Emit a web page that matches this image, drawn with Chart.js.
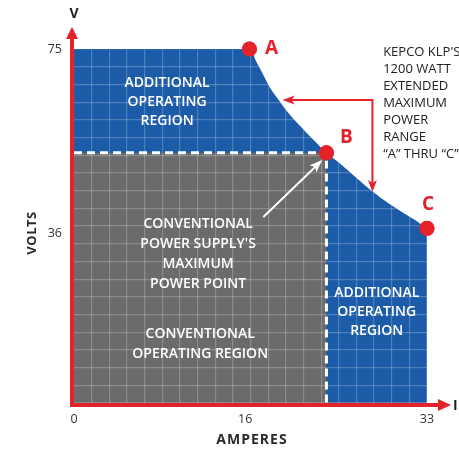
<!DOCTYPE html>
<html>
<head>
<meta charset="utf-8">
<script src="https://cdn.jsdelivr.net/npm/chart.js@4.4.1/dist/chart.umd.min.js"></script>
<style>
  html, body { margin: 0; padding: 0; background: #ffffff; }
  #wrap { width: 459px; height: 450px; }
</style>
</head>
<body>
<div id="wrap"><canvas id="c" width="459" height="450"></canvas></div>
<script>
// ---- Data ----
const xTickValues = [0, 16, 33];          // AMPERES ticks
const yTickValues = [36, 75];             // VOLTS ticks
// outline of the extended (1200 W) region: amperes / volts
const extendedI = [0, 16.4, 17.0, 17.7, 18.4, 19.2, 20.2, 21.3, 22.4, 23.6, 25.0, 26.3, 27.7, 29.1, 30.5, 31.8, 33];
const extendedV = [75, 75, 72.5, 69.5, 66.5, 64.0, 61.0, 58.3, 55.7, 53.0, 50.5, 47.9, 45.2, 42.8, 40.7, 38.9, 37];
// conventional operating region (rectangle up to max power point B)
const conventionalI = [0, 23.6];
const conventionalV = [53, 53];
// marked points A, B, C
const pointNames = ['A', 'B', 'C'];
const pointI = [16.4, 23.6, 33];
const pointV = [75, 53, 37];
// text blocks
const topLeftLabel = ['ADDITIONAL', 'OPERATING', 'REGION'];
const rightLabel = ['ADDITIONAL', 'OPERATING', 'REGION'];
const maxPointLabel = ['CONVENTIONAL', "POWER SUPPLY'S", 'MAXIMUM', 'POWER POINT'];
const convRegionLabel = ['CONVENTIONAL', 'OPERATING REGION'];
const kepcoLabel = ["KEPCO KLP'S", '1200 WATT', 'EXTENDED', 'MAXIMUM', 'POWER', 'RANGE', '\u201CA\u201D THRU \u201CC\u201D'];

const RED = '#e3222a';
const BLUE = '#1b5ba7';
const GRAY = '#6b6b6b';
const FONT = '"Open Sans", "Noto Sans", sans-serif';

const toXY = (xs, ys) => xs.map((v, i) => ({ x: v, y: ys[i] }));

function arrowHead(ctx, x0, y0, x1, y1, len, wid, color) {
  const ang = Math.atan2(y1 - y0, x1 - x0);
  ctx.save();
  ctx.fillStyle = color;
  ctx.translate(x1, y1);
  ctx.rotate(ang);
  ctx.beginPath();
  ctx.moveTo(0, 0);
  ctx.lineTo(-len, -wid / 2);
  ctx.lineTo(-len * 0.75, 0);
  ctx.lineTo(-len, wid / 2);
  ctx.closePath();
  ctx.fill();
  ctx.restore();
}

function textBlock(ctx, lines, px, py, lh, font, color, align) {
  ctx.save();
  ctx.font = font;
  ctx.fillStyle = color;
  ctx.textAlign = align;
  ctx.textBaseline = 'middle';
  lines.forEach((t, i) => ctx.fillText(t, px, py + i * lh));
  ctx.restore();
}

const annotations = {
  id: 'annotations',
  afterDraw(chart) {
    const ctx = chart.ctx;
    const xs = chart.scales.x, ys = chart.scales.y;
    const X = v => xs.getPixelForValue(v);
    const Y = v => ys.getPixelForValue(v);
    const a = chart.chartArea;

    // region labels
    const regFont = '600 14px ' + FONT;
    textBlock(ctx, topLeftLabel, X(8.7), Y(67.8), 19, regFont, '#ffffff', 'center');
    textBlock(ctx, rightLabel, X(28.3), Y(23.3), 19, regFont, '#ffffff', 'center');
    textBlock(ctx, maxPointLabel, X(11.6), Y(37.9), 20, regFont, '#ffffff', 'center');
    textBlock(ctx, convRegionLabel, X(11.8), Y(14.6), 19.5, regFont, '#ffffff', 'center');
    textBlock(ctx, kepcoLabel, X(28.9), Y(74.4), 17, '13px ' + FONT, '#222222', 'left');

    // white arrow to B
    ctx.save();
    ctx.strokeStyle = '#ffffff';
    ctx.lineWidth = 2;
    const wx0 = X(17.7), wy0 = Y(39.4), wx1 = X(23.2), wy1 = Y(51.5);
    ctx.beginPath(); ctx.moveTo(wx0, wy0); ctx.lineTo(wx1 - 6, wy1 + 6); ctx.stroke();
    ctx.restore();
    arrowHead(ctx, wx0, wy0, wx1, wy1, 13, 10, '#ffffff');

    // red bracket arrow
    ctx.save();
    ctx.strokeStyle = RED;
    ctx.lineWidth = 2;
    const cx = X(27.9), cy = Y(64.2), lx = X(19.5), dy = Y(44.7);
    ctx.beginPath();
    ctx.moveTo(lx + 8, cy); ctx.lineTo(cx, cy); ctx.lineTo(cx, dy - 8);
    ctx.stroke();
    ctx.restore();
    arrowHead(ctx, cx, cy, lx, cy, 12, 9, RED);
    arrowHead(ctx, cx, cy, cx, dy, 12, 9, RED);

    // red axes with arrows
    ctx.save();
    ctx.fillStyle = RED;
    ctx.fillRect(a.left - 4, 36, 4, a.bottom + 4 - 36);
    ctx.fillRect(a.left - 4, a.bottom, 440 - (a.left - 4), 4);
    ctx.beginPath();
    ctx.moveTo(a.left - 2, 27); ctx.lineTo(a.left - 8, 39); ctx.lineTo(a.left + 4, 39); ctx.closePath(); ctx.fill();
    ctx.beginPath();
    ctx.moveTo(451, a.bottom + 2); ctx.lineTo(438, a.bottom - 4); ctx.lineTo(438, a.bottom + 8); ctx.closePath(); ctx.fill();
    ctx.restore();

    // axis end letters and titles
    ctx.save();
    ctx.fillStyle = '#1e1e1e';
    ctx.font = 'bold 14px ' + FONT;
    ctx.textAlign = 'center';
    ctx.textBaseline = 'middle';
    ctx.fillText('V', a.left, 14);
    ctx.textAlign = 'left';
    ctx.fillText('I', 453, a.bottom + 3);
    ctx.textAlign = 'center';
    ctx.letterSpacing = '1px';
    ctx.fillStyle = '#2a2a2a';
    ctx.fillText('AMPERES', 252, 440);
    ctx.letterSpacing = '0.5px';
    ctx.font = 'bold 13px ' + FONT;
    ctx.translate(32, 233);
    ctx.rotate(-Math.PI / 2);
    ctx.fillText('VOLTS', 0, 0);
    ctx.restore();

    // redraw the marked points above the grid overlay
    chart.getDatasetMeta(3).controller.draw();

    // point letters
    ctx.save();
    ctx.fillStyle = RED;
    ctx.font = 'bold 19px ' + FONT;
    ctx.textAlign = 'center';
    ctx.textBaseline = 'middle';
    const offs = [[22, 0], [20, -15], [1, -24]];
    pointNames.forEach((n, i) => {
      ctx.fillText(n, X(pointI[i]) + offs[i][0], Y(pointV[i]) + offs[i][1]);
    });
    ctx.restore();
  }
};

new Chart(document.getElementById('c'), {
  type: 'line',
  data: {
    datasets: [
      {
        label: 'conventional',
        data: toXY(conventionalI, conventionalV),
        fill: 'origin',
        backgroundColor: GRAY,
        borderWidth: 0,
        pointRadius: 0,
        order: 2
      },
      {
        label: 'extended',
        data: toXY(extendedI, extendedV),
        fill: 'origin',
        backgroundColor: BLUE,
        borderColor: BLUE,
        borderWidth: 0,
        pointRadius: 0,
        tension: 0.3,
        order: 3
      },
      {
        label: 'max power point guides',
        data: [{ x: 0, y: conventionalV[0] }, { x: pointI[1], y: pointV[1] }, { x: pointI[1], y: 0 }],
        fill: false,
        borderColor: '#ffffff',
        borderWidth: 3,
        borderDash: [8, 5],
        pointRadius: 0,
        order: 1
      },
      {
        label: 'points',
        data: toXY(pointI, pointV),
        showLine: false,
        pointRadius: 7.5,
        pointBackgroundColor: RED,
        pointBorderWidth: 0,
        clip: false,
        order: 0
      }
    ]
  },
  options: {
    responsive: false,
    animation: false,
    events: [],
    layout: { padding: { top: 49, right: 32, left: 0, bottom: 0 } },
    plugins: { legend: { display: false }, tooltip: { enabled: false } },
    scales: {
      x: {
        type: 'linear', min: 0, max: 33, position: 'bottom',
        afterFit: s => { s.height = 47; },
        afterBuildTicks: s => { s.ticks = xTickValues.map(v => ({ value: v })); },
        grid: { display: false, drawTicks: false },
        border: { display: false },
        ticks: { color: '#333333', font: { family: FONT, size: 12.5 }, padding: 9, maxRotation: 0 }
      },
      y: {
        type: 'linear', min: 0, max: 75, position: 'left',
        afterFit: s => { s.width = 74; },
        afterBuildTicks: s => { s.ticks = yTickValues.map(v => ({ value: v })); },
        grid: { display: false, drawTicks: false },
        border: { display: false },
        ticks: { color: '#333333', font: { family: FONT, size: 12.5 }, padding: 12 }
      },
      gx: {
        type: 'linear', min: 0, max: 33, position: 'top', display: true,
        afterFit: s => { s.height = 0; },
        ticks: { display: false, stepSize: 1.65 },
        grid: { z: 1, color: 'rgba(255,255,255,0.22)', lineWidth: 1.2, drawTicks: false },
        border: { display: false }
      },
      gy: {
        type: 'linear', min: 0, max: 75, position: 'right', display: true,
        afterFit: s => { s.width = 0; },
        ticks: { display: false, stepSize: 3.75 },
        grid: { z: 1, color: 'rgba(255,255,255,0.22)', lineWidth: 1.2, drawTicks: false },
        border: { display: false }
      }
    }
  },
  plugins: [annotations]
});
</script>
</body>
</html>
